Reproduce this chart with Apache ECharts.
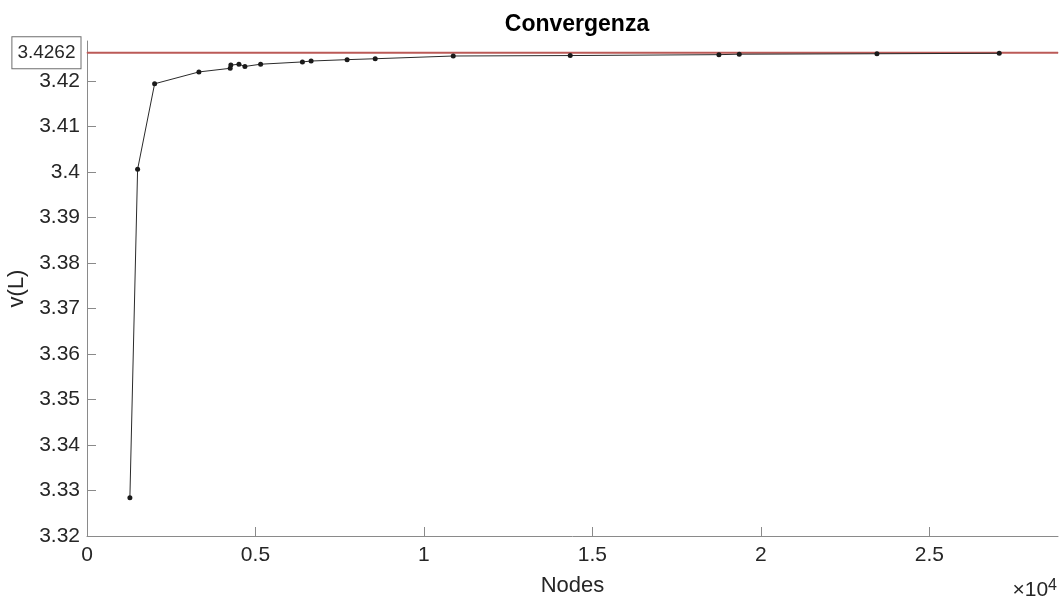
<!DOCTYPE html>
<html>
<head>
<meta charset="utf-8">
<title>Convergenza</title>
<script src="https://cdn.jsdelivr.net/npm/echarts@6/dist/echarts.min.js"></script>
<style>
  html, body { margin: 0; padding: 0; background: #fff; }
  #chart { width: 1062px; height: 601px; }
</style>
</head>
<body>
<div id="chart"></div>
<script>
// data
var nodes = [1273, 1502, 2007, 3321, 4250, 4270, 4509, 4687, 5153, 6394, 6652,
             7720, 8554, 10870, 14342, 18756, 19359, 23446, 27076];
var values = [3.3284, 3.4006, 3.4194, 3.4220, 3.4228, 3.4235, 3.4237, 3.4232, 3.4237,
              3.4242, 3.4244, 3.4247, 3.4249, 3.4255, 3.4256, 3.4258, 3.4259, 3.4260, 3.4261];
var limitValue = 3.4262;

var xRange = [0, 28820];
var yRange = [3.32, 3.4288];
var xTicks = [0, 5000, 10000, 15000, 20000, 25000];
var yTicks = [3.32, 3.33, 3.34, 3.35, 3.36, 3.37, 3.38, 3.39, 3.40, 3.41, 3.42];

var font = 'Liberation Sans, Arial, Helvetica, sans-serif';
var axisGray = '#8a8a8a';
var textDark = '#262626';
var limitColor = '#bb5a57';

var points = nodes.map(function (n, i) { return [n, values[i]]; });

// the reference line spans the whole x range, boxed value on its left end
var limitLine = [
  {
    value: [xRange[0], limitValue],
    label: {
      show: true,
      position: 'left',
      distance: 6,
      formatter: String(limitValue),
      fontFamily: font,
      fontSize: 19,
      color: textDark,
      backgroundColor: '#ffffff',
      borderColor: '#6e6e6e',
      borderWidth: 1,
      padding: [7, 5, 5, 5]
    }
  },
  [xRange[1], limitValue]
];

var chart = echarts.init(document.getElementById('chart'));

var option = {
  animation: false,
  backgroundColor: '#ffffff',
  textStyle: { fontFamily: font },
  title: {
    text: 'Convergenza',
    left: 572,
    textAlign: 'center',
    top: 8,
    textStyle: { fontFamily: font, fontSize: 23, fontWeight: 'bold', color: '#000' }
  },
  grid: {
    left: 87,
    right: 4,
    top: 41,
    bottom: 65,
    containLabel: false,
    outerBoundsMode: 'none'
  },
  xAxis: {
    type: 'value',
    min: xRange[0],
    max: xRange[1],
    interval: 5000,
    name: 'Nodes',
    nameLocation: 'middle',
    nameGap: 39,
    nameTextStyle: { fontSize: 22, color: textDark, fontFamily: font },
    axisLine: { show: true, onZero: false, lineStyle: { color: axisGray, width: 1 } },
    axisTick: { show: true, inside: true, length: 9, lineStyle: { color: axisGray } },
    splitLine: { show: false },
    axisLabel: {
      fontSize: 21,
      color: textDark,
      margin: 9,
      showMaxLabel: false,
      formatter: function (v) {
        var hit = xTicks.some(function (t) { return Math.abs(t - v) < 1e-6; });
        return hit ? String(Math.round(v / 1000) / 10) : '';
      }
    }
  },
  yAxis: {
    type: 'value',
    min: yRange[0],
    max: yRange[1],
    interval: 0.01,
    name: 'v(L)',
    nameLocation: 'middle',
    nameGap: 52,
    nameTextStyle: { fontSize: 22, color: textDark, fontFamily: font },
    axisLine: { show: true, onZero: false, lineStyle: { color: axisGray, width: 1 } },
    axisTick: { show: true, inside: true, length: 9, lineStyle: { color: axisGray } },
    splitLine: { show: false },
    axisLabel: {
      fontSize: 21,
      color: textDark,
      margin: 7,
      showMaxLabel: false,
      formatter: function (v) {
        var hit = yTicks.some(function (t) { return Math.abs(t - v) < 1e-7; });
        return hit ? String(Math.round(v * 100) / 100) : '';
      }
    }
  },
  series: [{
    type: 'line',
    data: limitLine,
    symbol: 'circle',
    symbolSize: 1,
    showSymbol: true,
    silent: true,
    z: 1,
    itemStyle: { color: limitColor },
    lineStyle: { color: limitColor, width: 2 }
  }, {
    type: 'line',
    data: points,
    symbol: 'circle',
    symbolSize: 5,
    z: 3,
    itemStyle: { color: '#1a1a1a' },
    lineStyle: { color: '#2b2b2b', width: 1 }
  }],
  graphic: [{
    type: 'text',
    right: 5,
    bottom: 0,
    style: {
      text: '×10{sup|4}',
      fontFamily: font,
      fontSize: 21,
      fill: textDark,
      rich: {
        sup: { fontSize: 16, verticalAlign: 'top', padding: [0, 0, 10, 0], fill: textDark }
      }
    }
  }]
};

chart.setOption(option);
</script>
</body>
</html>
